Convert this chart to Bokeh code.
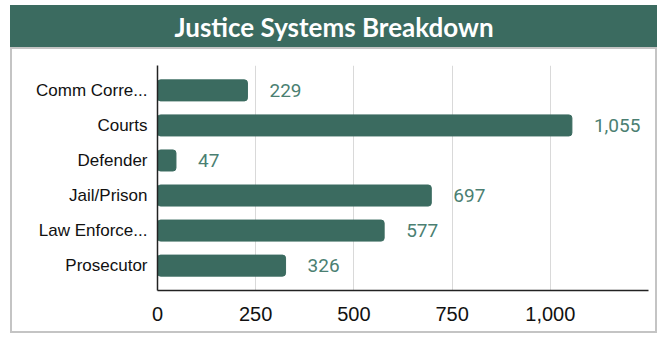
from bokeh.plotting import figure
from bokeh.layouts import column
from bokeh.models import ColumnDataSource, FactorRange, FixedTicker, NumeralTickFormatter
from bokeh.core.properties import value
from bokeh.embed import file_html
from bokeh.resources import INLINE

title_text = "Justice Systems Breakdown"
categories = ["Comm Corre...", "Courts", "Defender", "Jail/Prison", "Law Enforce...", "Prosecutor"]
counts = [229, 1055, 47, 697, 577, 326]
tick_values = [0, 250, 500, 750, 1000]

GREEN = "#3b6b60"
LABEL = "#4b7f72"

labels = [f"{v:,}" for v in counts]
src = ColumnDataSource(dict(cat=categories, val=counts, lab=labels))

LEFT, RIGHT = 147, 9
W = 647

banner = figure(width=W, height=42, x_range=(0, 1), y_range=(0, 1),
                toolbar_location=None, output_backend="svg",
                min_border_left=LEFT, min_border_right=RIGHT, min_border_top=0, min_border_bottom=0,
                background_fill_color=None, border_fill_color=None)
banner.axis.visible = False
banner.grid.visible = False
banner.outline_line_color = None
banner.styles = {"background-color": GREEN}
banner.text(x=[0.5], y=[0.5], text=[title_text], text_align="center", text_baseline="middle",
            x_offset=-(LEFT - RIGHT) / 2,
            text_color="white", text_font=value("Lato"), text_font_style="bold",
            text_font_size="26px")

p = figure(width=W, height=286, y_range=FactorRange(*list(reversed(categories)), range_padding=0.07),
           x_range=(0, 1250), toolbar_location=None, output_backend="svg",
           min_border_left=LEFT, min_border_right=RIGHT, min_border_top=18, min_border_bottom=43,
           border_fill_color=None, background_fill_color=None)
p.hbar(y="cat", right="val", height=0.6, source=src, color=GREEN, border_radius=3)
p.text(x="val", y="cat", text="lab", source=src, x_offset=22, text_baseline="middle",
       text_align="left", text_color=LABEL, text_font=value("Roboto"), text_font_size="19px")

p.outline_line_color = None
p.ygrid.visible = False
p.xgrid.ticker = FixedTicker(ticks=[250, 500, 750, 1000, 1250])
p.xgrid.grid_line_color = "#d9d9d9"
p.xaxis.ticker = FixedTicker(ticks=tick_values)
p.xaxis.formatter = NumeralTickFormatter(format="0,0")
for ax in (p.xaxis, p.yaxis):
    ax.major_tick_line_color = None
    ax.minor_tick_line_color = None
    ax.axis_line_color = "#222222"
    ax.axis_line_width = 1.5
    ax.major_label_text_font = "Liberation Sans"
    ax.major_label_text_color = "#111111"
p.xaxis.major_label_text_font_size = "20px"
p.xaxis.major_label_standoff = 10
p.yaxis.major_label_text_font_size = "17px"
p.yaxis.major_label_standoff = 4
p.styles = {"background-color": "white", "box-shadow": "inset 0 0 0 2px #c4c4c4"}

layout = column(banner, p, spacing=0, margin=(5, 10, 5, 10))
open("out.html", "w").write(file_html(layout, INLINE))
